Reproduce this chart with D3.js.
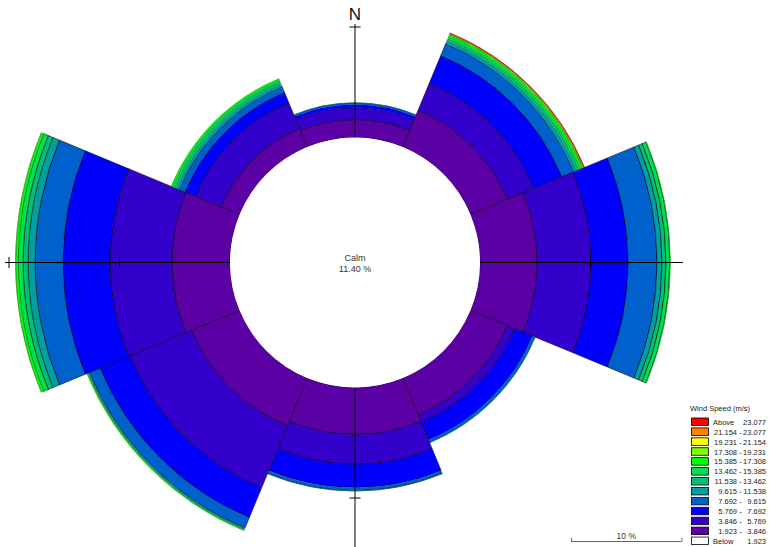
<!DOCTYPE html>
<html>
<head>
<meta charset="utf-8">
<script src="https://cdn.jsdelivr.net/npm/d3@7"></script>
<style>
  html, body { margin: 0; padding: 0; background: #fff; }
  svg { display: block; }
  text { font-family: "Liberation Sans", Arial, sans-serif; }
</style>
</head>
<body>
<svg id="chart" width="769" height="547"></svg>
<script>
// ---- data ----
const directions = ["N", "NE", "E", "SE", "S", "SW", "W", "NW"];
const directionAngles = [0, 45, 90, 135, 180, 225, 270, 315];

// frequency (%) per speed bin, one value per direction (order as `directions`)
const bin1 = [1.63, 3.62, 5.16, 3.62, 4.25, 4.70, 5.25, 1.81];   // 1.923 - 3.846
const bin2 = [1.09, 2.62, 4.89, 0.72, 2.70, 6.06, 5.61, 2.53];   // 3.846 - 5.769
const bin3 = [0.27, 2.71, 3.35, 1.72, 2.10, 2.90, 4.25, 1.00];   // 5.769 - 7.692
const bin4 = [0.15, 1.18, 2.62, 0.27, 0.27, 1.04, 2.53, 0.59];   // 7.692 - 9.615
const bin5 = [0.02, 0.27, 0.45, 0.03, 0.05, 0.07, 0.63, 0.23];   // 9.615 - 11.538
const bin6 = [0.00, 0.23, 0.36, 0.00, 0.01, 0.06, 0.45, 0.23];   // 11.538 - 13.462
const bin7 = [0.00, 0.18, 0.36, 0.00, 0.00, 0.07, 0.45, 0.18];   // 13.462 - 15.385
const bin8 = [0.00, 0.18, 0.05, 0.00, 0.00, 0.07, 0.23, 0.14];   // 15.385 - 17.308
const bin9 = [0.00, 0.07, 0.00, 0.00, 0.00, 0.00, 0.02, 0.00];   // 17.308 - 19.231
const bin10 = [0.00, 0.04, 0.00, 0.00, 0.00, 0.00, 0.00, 0.00];  // 19.231 - 21.154
const bin11 = [0.00, 0.04, 0.00, 0.00, 0.00, 0.00, 0.00, 0.00];  // 21.154 - 23.077
const bin12 = [0.00, 0.05, 0.00, 0.00, 0.00, 0.00, 0.00, 0.00];  // Above 23.077

const seriesValues = [bin1, bin2, bin3, bin4, bin5, bin6, bin7, bin8, bin9, bin10, bin11, bin12];
const binColors = ["#5a00a5", "#3300cc", "#0000ff", "#0060cc", "#00a0a0", "#00c078",
                   "#00e050", "#00ff00", "#80ff00", "#ffff00", "#ff8000", "#ff0000"];
const binLow = ["1.923", "3.846", "5.769", "7.692", "9.615", "11.538", "13.462",
                "15.385", "17.308", "19.231", "21.154", "23.077"];
const binHigh = ["3.846", "5.769", "7.692", "9.615", "11.538", "13.462", "15.385",
                 "17.308", "19.231", "21.154", "23.077", ""];
const calmValue = 11.40;
const calmThreshold = "1.923";
const tickValues = [10, 20];
const legendTitle = "Wind Speed (m/s)";

// ---- layout ----
const svg = d3.select("#chart");
const cx = 355, cy = 262.5;
const calmR = 125;
const r = d3.scaleLinear().domain([0, 20]).range([calmR, 346]);
const half = Math.PI / 8;

const g = svg.append("g").attr("transform", `translate(${cx},${cy})`);
const arc = d3.arc();

// sectors
directions.forEach((dir, i) => {
  const a = directionAngles[i] * Math.PI / 180;
  let cum = 0;
  seriesValues.forEach((vals, b) => {
    const v = vals[i];
    if (v <= 0) return;
    const inner = r(cum);
    cum += v;
    const outer = r(cum);
    const thin = (outer - inner) < 3;
    g.append("path")
      .attr("d", arc({innerRadius: inner, outerRadius: outer, startAngle: a - half, endAngle: a + half}))
      .attr("fill", binColors[b])
      .attr("stroke", "#000")
      .attr("stroke-width", thin ? 0.35 : 0.6)
      .attr("stroke-opacity", thin ? 0.5 : 0.85);
  });
});

// axes (crosshair)
const axisColor = "#000";
g.append("line").attr("x1", -350).attr("x2", 328).attr("y1", 0).attr("y2", 0)
  .attr("stroke", axisColor).attr("stroke-width", 1);
g.append("line").attr("x1", 0).attr("x2", 0).attr("y1", -238.5).attr("y2", 290)
  .attr("stroke", axisColor).attr("stroke-width", 1);

// ticks
const tl = 5.5;
tickValues.forEach(t => {
  const rr = r(t);
  if (rr <= 350) g.append("line").attr("x1", -rr).attr("x2", -rr).attr("y1", -tl).attr("y2", tl).attr("stroke", axisColor);
  if (rr <= 328) g.append("line").attr("x1", rr).attr("x2", rr).attr("y1", -tl).attr("y2", tl).attr("stroke", axisColor);
  if (rr <= 238.5) g.append("line").attr("y1", -rr).attr("y2", -rr).attr("x1", -tl).attr("x2", tl).attr("stroke", axisColor);
  if (rr <= 290) g.append("line").attr("y1", rr).attr("y2", rr).attr("x1", -tl).attr("x2", tl).attr("stroke", axisColor);
});

// calm circle
g.append("circle").attr("r", calmR).attr("fill", "#fff").attr("stroke", "none");
g.append("text").attr("x", 0).attr("y", -2).attr("text-anchor", "middle")
  .attr("font-size", 9).attr("fill", "#333").text("Calm");
g.append("text").attr("x", 0).attr("y", 9).attr("text-anchor", "middle")
  .attr("font-size", 9).attr("fill", "#333").text(calmValue.toFixed(2) + " %");

// North label
svg.append("text").attr("x", cx).attr("y", 20).attr("text-anchor", "middle")
  .attr("font-size", 17).attr("fill", "#111").text("N");

// legend
const lx = 691, ly0 = 417.5, pitch = 9.92;
svg.append("text").attr("x", 690).attr("y", 411).attr("font-size", 7.5).attr("fill", "#222").text(legendTitle);
const legendRows = [];
for (let b = seriesValues.length - 1; b >= 0; b--) legendRows.push({color: binColors[b], low: binLow[b], high: binHigh[b]});
legendRows.push({color: "#fff", low: null, high: calmThreshold, below: true});
legendRows.forEach((row, k) => {
  const y = ly0 + k * pitch;
  svg.append("rect").attr("x", lx + 0.5).attr("y", y + 0.5).attr("width", 17).attr("height", 7.5)
    .attr("fill", row.color).attr("stroke", "#000").attr("stroke-width", 0.8);
  const ty = y + 7.3;
  if (row.below) {
    svg.append("text").attr("x", 713).attr("y", ty).attr("font-size", 7.5).attr("fill", "#222").text("Below");
    svg.append("text").attr("x", 766).attr("y", ty).attr("text-anchor", "end").attr("font-size", 7.5).attr("fill", "#222").text(row.high);
  } else if (row.high === "") {
    svg.append("text").attr("x", 713).attr("y", ty).attr("font-size", 7.5).attr("fill", "#222").text("Above");
    svg.append("text").attr("x", 766).attr("y", ty).attr("text-anchor", "end").attr("font-size", 7.5).attr("fill", "#222").text(row.low);
  } else {
    svg.append("text").attr("x", 737).attr("y", ty).attr("text-anchor", "end").attr("font-size", 7.5).attr("fill", "#222").text(row.low);
    svg.append("text").attr("x", 740.5).attr("y", ty).attr("text-anchor", "middle").attr("font-size", 7.5).attr("fill", "#222").text("-");
    svg.append("text").attr("x", 766).attr("y", ty).attr("text-anchor", "end").attr("font-size", 7.5).attr("fill", "#222").text(row.high);
  }
});

// scale bar (10 %)
const sbx0 = 571, sby = 541.5;
const sbLen = r(10) - r(0);
svg.append("line").attr("x1", sbx0).attr("x2", sbx0 + sbLen).attr("y1", sby).attr("y2", sby)
  .attr("stroke", "#666").attr("stroke-width", 1);
[sbx0, sbx0 + sbLen].forEach(x => svg.append("line").attr("x1", x + 0.5).attr("x2", x + 0.5)
  .attr("y1", sby - 3.5).attr("y2", sby).attr("stroke", "#666"));
svg.append("text").attr("x", sbx0 + sbLen / 2).attr("y", 539).attr("text-anchor", "middle")
  .attr("font-size", 8.5).attr("fill", "#333").text("10 %");
</script>
</body>
</html>
